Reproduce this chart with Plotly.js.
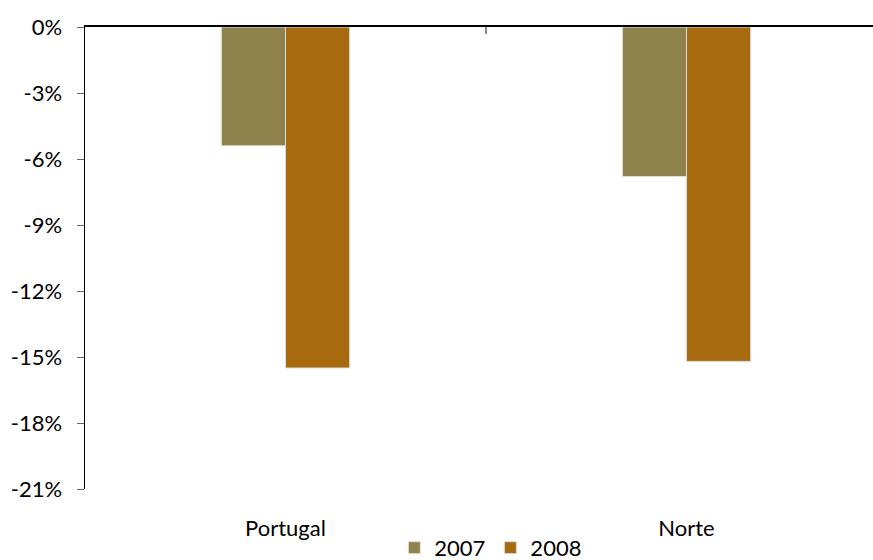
<!DOCTYPE html>
<html>
<head>
<meta charset="utf-8">
<script src="https://cdn.plot.ly/plotly-3.0.1.min.js"></script>
<style>
  html, body { margin: 0; padding: 0; background: #fff; }
  #chart { width: 873px; height: 560px; }
</style>
</head>
<body>
<div id="chart"></div>
<script>
// Regions and yearly change (%)
const regions = ["Portugal", "Norte"];
const change2007 = [-5.4, -6.8];
const change2008 = [-15.5, -15.2];

// Y axis ticks
const yTickVals = [0, -3, -6, -9, -12, -15, -18, -21];
const yTickText = ["0%", "-3%", "-6%", "-9%", "-12%", "-15%", "-18%", "-21%"];

const FONT = "Lato, 'Open Sans', sans-serif";

const traces = [
  {
    type: "bar", name: "2007", x: regions, y: change2007,
    marker: { color: "#8F834D", line: { color: "#E6E1D2", width: 1 } },
    hoverinfo: "skip"
  },
  {
    type: "bar", name: "2008", x: regions, y: change2008,
    marker: { color: "#A86A0E", line: { color: "#D9DDE6", width: 1 } },
    hoverinfo: "skip"
  },
  // carries the zero-level category axis with its divider tick
  {
    type: "scatter", x: regions, y: [0, 0], xaxis: "x2", yaxis: "y",
    mode: "none", showlegend: false, hoverinfo: "skip"
  }
];

const layout = {
  width: 873, height: 560,
  margin: { l: 85, r: 0, t: 27, b: 71, autoexpand: false },
  paper_bgcolor: "#fff", plot_bgcolor: "#fff",
  font: { family: FONT, size: 22, color: "#000" },
  barmode: "group",
  bargap: 0.68,
  bargroupgap: 0,
  showlegend: true,
  legend: {
    orientation: "h", x: 0.515, xanchor: "center", y: -0.082, yanchor: "top",
    font: { family: FONT, size: 22, color: "#000" },
    itemwidth: 30, tracegroupgap: 0
  },
  xaxis: {
    type: "category", range: [-0.5, 1.465],
    showline: false, ticks: "", showgrid: false, zeroline: false,
    ticklabelstandoff: 24,
    tickfont: { family: FONT, size: 22, color: "#000" },
    fixedrange: true
  },
  xaxis2: {
    type: "category", overlaying: "x", side: "top", anchor: "y",
    range: [-0.5, 1.465],
    showline: true, linecolor: "#000", linewidth: 2,
    tickmode: "array", tickvals: [0.5], ticktext: [""],
    ticks: "inside", ticklen: 7, tickwidth: 2, tickcolor: "#888",
    showticklabels: false, showgrid: false, zeroline: false,
    fixedrange: true
  },
  yaxis: {
    range: [-21, 0],
    tickmode: "array", tickvals: yTickVals, ticktext: yTickText,
    ticks: "outside", ticklen: 7, tickwidth: 1, tickcolor: "#666",
    showline: true, linecolor: "#000", linewidth: 1.5,
    showgrid: false, zeroline: false,
    ticklabelstandoff: 10,
    tickfont: { family: FONT, size: 22, color: "#000" },
    fixedrange: true
  }
};

Plotly.newPlot("chart", traces, layout, { displayModeBar: false, staticPlot: true });
</script>
</body>
</html>
